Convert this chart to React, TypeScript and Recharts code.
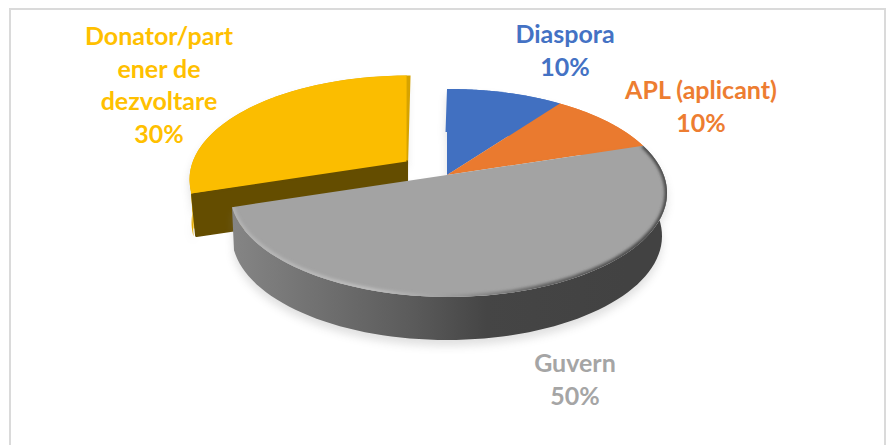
import { Pie, PieChart } from 'recharts';

// data order starts at the exploded slice, so the big grey slice paints last, on top of it
const categories = ['Donator/partener de dezvoltare', 'Diaspora', 'APL (aplicant)', 'Guvern'];
const values = [30, 10, 10, 50];
const labelColors = ['#FFC000', '#4472C4', '#ED7D31', '#A5A5A5'];
const faceColors = ['#FBBD00', '#4170C1', '#EA7A2F', '#A3A3A3'];
const labelLines = [['Donator/part', 'ener de', 'dezvoltare'], ['Diaspora'], ['APL (aplicant)'], ['Guvern']];

const labelCenters = [[159, 45], [565, 43], [701, 99], [575, 372]];
const explodeDistance = [50, 0, 0, 0];
const castsShadow = [true, true, false, true];

const chartData = categories.map((name, i) => ({ name, value: values[i] }));

// fake 3D: rays leave the apex squashed by TILT and stop on an ellipse whose centre sits below the apex
const TILT = 0.46;
const RY = 104;
const ELLIPSE_DX = 1.5;
const ELLIPSE_DY = 18;
const DEPTH = 43;
const BOTTOM_SHRINK = 3.5;
const BOTTOM_SHIFT = -1.5;
const LINE_HEIGHT = 32.6;

const rad = (deg: number) => (deg * Math.PI) / 180;

function rimPoint(ax: number, ay: number, rx: number, deg: number) {
    const ux = Math.cos(rad(deg));
    const uy = -TILT * Math.sin(rad(deg));
    const px = -ELLIPSE_DX;
    const py = -ELLIPSE_DY;
    const a = (ux * ux) / (rx * rx) + (uy * uy) / (RY * RY);
    const b = 2 * ((px * ux) / (rx * rx) + (py * uy) / (RY * RY));
    const c = (px * px) / (rx * rx) + (py * py) / (RY * RY) - 1;
    const t = (-b + Math.sqrt(b * b - 4 * a * c)) / (2 * a);
    return { x: ax + ux * t, y: ay + uy * t };
}

function Slice3D(props: any) {
    const { cx, cy, outerRadius: rx, startAngle, endAngle, midAngle, index, fill } = props;
    const dist = explodeDistance[index];
    const ax = cx + dist * Math.cos(rad(midAngle));
    const ay = cy - dist * TILT * Math.sin(rad(midAngle));
    const ex = ax + ELLIPSE_DX;
    const ey = ay + ELLIPSE_DY;
    const p1 = rimPoint(ax, ay, rx, startAngle);
    const p2 = rimPoint(ax, ay, rx, endAngle);

    const phi1 = Math.atan2((p1.y - ey) / RY, (p1.x - ex) / rx);
    let phi2 = Math.atan2((p2.y - ey) / RY, (p2.x - ex) / rx);
    if (phi2 < phi1) phi2 += Math.PI * 2;
    const large = phi2 - phi1 > Math.PI ? 1 : 0;

    const arc = `M${p1.x},${p1.y}A${rx},${RY} 0 ${large} 1 ${p2.x},${p2.y}`;
    const face = `M${ax},${ay}L${p1.x},${p1.y}A${rx},${RY} 0 ${large} 1 ${p2.x},${p2.y}Z`;

    // outer wall between the top rim and a slightly smaller bottom rim
    const top: string[] = [];
    const bottom: string[] = [];
    for (let i = 0; i <= 80; i++) {
        const phi = phi1 + ((phi2 - phi1) * i) / 80;
        top.push(`${ex + rx * Math.cos(phi)},${ey + RY * Math.sin(phi)}`);
        bottom.unshift(
            `${ex + BOTTOM_SHIFT + (rx - BOTTOM_SHRINK) * Math.cos(phi)},${ey + DEPTH + RY * Math.sin(phi)}`,
        );
    }
    const wall = [...top, ...bottom].join(' ');

    const isGrey = index === 3;
    const isExploded = dist > 0;

    return (
        <g>
            <defs>
                <filter id={`soft-${index}`} x="-15%" y="-25%" width="130%" height="150%">
                    <feGaussianBlur stdDeviation="4.5" />
                </filter>
                <filter id={`bevel-${index}`} x="-5%" y="-10%" width="110%" height="120%">
                    <feGaussianBlur stdDeviation="1.6" />
                </filter>
                <clipPath id={`faceClip-${index}`}>
                    <path d={face} />
                </clipPath>
                <linearGradient id="greyWall" gradientUnits="userSpaceOnUse" x1={ex - rx} x2={ex + rx} y1={0} y2={0}>
                    <stop offset="0" stopColor="#8F8F8F" />
                    <stop offset="0.28" stopColor="#727272" />
                    <stop offset="0.5" stopColor="#5C5C5C" />
                    <stop offset="0.68" stopColor="#454545" />
                    <stop offset="1" stopColor="#424242" />
                </linearGradient>
                <linearGradient id="greyBevel" gradientUnits="userSpaceOnUse" x1={ex - rx} x2={ex + rx} y1={0} y2={0}>
                    <stop offset="0" stopColor="#B0B0B0" />
                    <stop offset="0.42" stopColor="#BEBEBE" />
                    <stop offset="0.58" stopColor="#A0A0A0" />
                    <stop offset="0.8" stopColor="#606060" />
                    <stop offset="1" stopColor="#484848" />
                </linearGradient>
            </defs>
            {castsShadow[index] && (
                <g filter={`url(#soft-${index})`} opacity={0.24} transform="translate(0,6)">
                    <path d={face} fill="#7F7F7F" />
                    <polygon points={wall} fill="#7F7F7F" />
                </g>
            )}
            <polygon points={wall} fill={isGrey ? 'url(#greyWall)' : isExploded ? '#E3AB00' : fill} />
            {isExploded && (
                <>
                    <polygon
                        points={`${p1.x},${p1.y} ${p2.x},${p2.y} ${p2.x + 4},${p2.y} ${ax + 1},${ay + 20} ${ax - 1},${ay + 20}`}
                        fill="#D6A300"
                    />
                    <polygon
                        points={`${p1.x - 1},${p1.y - 6} ${p1.x + 2},${p1.y + DEPTH - 8} ${p1.x + 7},${p1.y + DEPTH - 8} ${p1.x + 5},${p1.y}`}
                        fill="#EDB200"
                    />
                    <polygon
                        points={`${ax},${ay} ${p1.x + 1},${p1.y + 1} ${p1.x + 5},${p1.y + DEPTH - 1} ${ax},${ay + DEPTH}`}
                        fill="#644D00"
                        stroke="#644D00"
                        strokeWidth={3}
                        strokeLinejoin="round"
                    />
                </>
            )}
            <path d={face} fill={fill} />
            {isGrey && (
                <g clipPath={`url(#faceClip-${index})`}>
                    <path d={arc} fill="none" stroke="url(#greyBevel)" strokeWidth={5} filter={`url(#bevel-${index})`} />
                </g>
            )}
        </g>
    );
}

function SliceLabel(props: any) {
    const { index, value } = props;
    const [x, y] = labelCenters[index];
    const lines = [...labelLines[index], `${value}%`];
    return (
        <text
            x={x}
            y={y}
            textAnchor="middle"
            fontFamily="Lato, sans-serif"
            fontWeight={700}
            fontSize={25}
            fill={labelColors[index]}
        >
            {lines.map((line, i) => (
                <tspan key={line} x={x} y={y + i * LINE_HEIGHT}>
                    {line}
                </tspan>
            ))}
        </text>
    );
}

export default function App() {
    return (
        <div style={{ position: 'absolute', left: 0, top: 0, width: 888, height: 445, overflow: 'hidden', background: '#fff' }}>
            <div
                style={{
                    position: 'absolute',
                    left: 9,
                    top: 8,
                    width: 873,
                    height: 460,
                    border: '2px solid #DADADA',
                }}
            />
            <div style={{ position: 'absolute', left: 0, top: 0 }}>
                <PieChart width={888} height={445} margin={{ top: 0, right: 0, bottom: 0, left: 0 }}>
                    <Pie
                        data={chartData}
                        dataKey="value"
                        nameKey="name"
                        cx={447}
                        cy={175}
                        innerRadius={0}
                        outerRadius={218.5}
                        startAngle={198}
                        endAngle={-162}
                        stroke="none"
                        isAnimationActive={false}
                        shape={(p: any) => <Slice3D {...p} fill={faceColors[p.index]} />}
                        label={SliceLabel}
                        labelLine={false}
                    />
                </PieChart>
            </div>
        </div>
    );
}
